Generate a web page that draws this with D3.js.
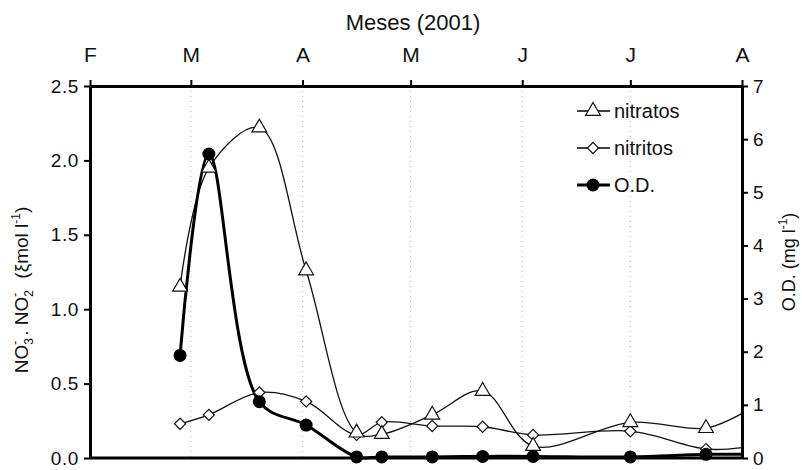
<!DOCTYPE html>
<html>
<head>
<meta charset="utf-8">
<script src="https://cdn.jsdelivr.net/npm/d3@7"></script>
<style>
  body { margin: 0; background: #fff; }
  svg text { font-family: "Liberation Sans", Arial, sans-serif; fill: #111; }
</style>
</head>
<body>
<div id="chart"></div>
<script>
// sampling dates (last one is the end of the series at the right edge, no marker)
var fechas = ["2001-02-26", "2001-03-06", "2001-03-20", "2001-04-02", "2001-04-16", "2001-04-23",
              "2001-05-07", "2001-05-21", "2001-06-04", "2001-07-01", "2001-07-22", "2001-08-01"];
var nitratos = [1.15, 1.95, 2.22, 1.26, 0.17, 0.16, 0.29, 0.45, 0.08, 0.24, 0.20, 0.30];
var nitritos = [0.23, 0.29, 0.44, 0.38, 0.155, 0.24, 0.215, 0.21, 0.155, 0.18, 0.06, 0.07];
var od = [1.93, 5.72, 1.06, 0.62, 0.02, 0.02, 0.02, 0.03, 0.03, 0.02, 0.07, 0.07];

var meses = ["2001-02-01", "2001-03-01", "2001-04-01", "2001-05-01", "2001-06-01", "2001-07-01", "2001-08-01"];
var mesLabels = ["F", "M", "A", "M", "J", "J", "A"];
var leftTicks = [0, 0.5, 1.0, 1.5, 2.0, 2.5];
var rightTicks = [0, 1, 2, 3, 4, 5, 6, 7];

var width = 802, height = 470;
var margin = {top: 86, right: 60, bottom: 12, left: 90};
var parse = d3.timeParse("%Y-%m-%d");

var x = d3.scaleTime()
    .domain([parse(meses[0]), parse(meses[meses.length - 1])])
    .range([margin.left, width - margin.right]);
var y = d3.scaleLinear().domain([0, 2.5]).range([height - margin.bottom, margin.top]);
var y2 = d3.scaleLinear().domain([0, 7]).range([height - margin.bottom, margin.top]);

var svg = d3.select("#chart").append("svg")
    .attr("width", width).attr("height", height);

// dotted month gridlines
svg.append("g").selectAll("line")
    .data(meses.slice(1, -1))
    .enter().append("line")
    .attr("x1", function(d){ return x(parse(d)); })
    .attr("x2", function(d){ return x(parse(d)); })
    .attr("y1", margin.top)
    .attr("y2", height - margin.bottom)
    .attr("stroke", "#b8b8b8")
    .attr("stroke-width", 1)
    .attr("stroke-dasharray", "1,4");

// series
var rows = fechas.map(function(f, i){
    return {date: parse(f), nitratos: nitratos[i], nitritos: nitritos[i], od: od[i]};
});
var endDate = x.domain()[1];
var marked = rows.filter(function(d){ return d.date < endDate; });

var curve = d3.curveCatmullRom.alpha(0.5);
function line(key, scale){
    return d3.line().curve(curve)
        .x(function(d){ return x(d.date); })
        .y(function(d){ return scale(d[key]); });
}

svg.append("path").datum(rows)
    .attr("d", line("nitritos", y))
    .attr("fill", "none").attr("stroke", "#111").attr("stroke-width", 1.3);
svg.append("path").datum(rows)
    .attr("d", line("nitratos", y))
    .attr("fill", "none").attr("stroke", "#111").attr("stroke-width", 1.3);
svg.append("path").datum(rows)
    .attr("d", line("od", y2))
    .attr("fill", "none").attr("stroke", "#000").attr("stroke-width", 3);

var tri = d3.symbol().type(d3.symbolTriangle).size(95);
var dia = d3.symbol().type(d3.symbolSquare).size(62);

svg.append("g").selectAll("path")
    .data(marked).enter().append("path")
    .attr("d", dia)
    .attr("transform", function(d){ return "translate(" + x(d.date) + "," + y(d.nitritos) + ") rotate(45)"; })
    .attr("fill", "#fff").attr("stroke", "#111").attr("stroke-width", 1.2);

svg.append("g").selectAll("path")
    .data(marked).enter().append("path")
    .attr("d", tri)
    .attr("transform", function(d){ return "translate(" + x(d.date) + "," + y(d.nitratos) + ")"; })
    .attr("fill", "#fff").attr("stroke", "#111").attr("stroke-width", 1.2);

svg.append("g").selectAll("circle")
    .data(marked).enter().append("circle")
    .attr("cx", function(d){ return x(d.date); })
    .attr("cy", function(d){ return y2(d.od); })
    .attr("r", 6.5)
    .attr("fill", "#000");

// axes
var topAxis = d3.axisTop(x)
    .tickValues(meses.map(parse))
    .tickFormat(function(d, i){ return mesLabels[i]; })
    .tickSize(6).tickSizeOuter(0).tickPadding(18);
var gTop = svg.append("g").attr("transform", "translate(0," + margin.top + ")").call(topAxis);
gTop.selectAll("text").attr("font-size", 21);

var leftAxis = d3.axisLeft(y).tickValues(leftTicks).tickFormat(d3.format(".1f"))
    .tickSize(6).tickSizeOuter(0).tickPadding(5);
var gLeft = svg.append("g").attr("transform", "translate(" + margin.left + ",0)").call(leftAxis);
gLeft.selectAll("text").attr("font-size", 19).attr("letter-spacing", 0.6);

var rightAxis = d3.axisRight(y2).tickValues(rightTicks).tickFormat(d3.format("d"))
    .tickSize(6).tickSizeOuter(0).tickPadding(5);
var gRight = svg.append("g").attr("transform", "translate(" + (width - margin.right) + ",0)").call(rightAxis);
gRight.selectAll("text").attr("font-size", 19);

svg.selectAll(".domain").attr("stroke", "#000").attr("stroke-width", 3);
svg.selectAll(".tick line").attr("stroke", "#000").attr("stroke-width", 2);

svg.append("line")
    .attr("x1", margin.left).attr("x2", width - margin.right)
    .attr("y1", height - margin.bottom).attr("y2", height - margin.bottom)
    .attr("stroke", "#000").attr("stroke-width", 3);

// titles
svg.append("text")
    .attr("x", (margin.left + width - margin.right) / 2 - 3).attr("y", 30)
    .attr("text-anchor", "middle").attr("font-size", 22)
    .text("Meses (2001)");

var lt = svg.append("text")
    .attr("transform", "translate(28,290) rotate(-90)")
    .attr("text-anchor", "middle").attr("font-size", 19);
lt.append("tspan").text("NO");
lt.append("tspan").attr("font-size", 12).attr("dy", 5).text("3");
lt.append("tspan").attr("font-size", 13).attr("dx", -7).attr("dy", -14).text("-");
lt.append("tspan").attr("dx", 5).attr("dy", 9).text(".\u00a0NO");
lt.append("tspan").attr("font-size", 12).attr("dy", 5).text("2");
lt.append("tspan").attr("font-size", 13).attr("dx", -7).attr("dy", -14).text("-");
lt.append("tspan").attr("dx", 14).attr("dy", 9).text("(ξmol l");
lt.append("tspan").attr("font-size", 12).attr("dy", -8).text("-1");
lt.append("tspan").attr("dy", 8).text(")");

var rt = svg.append("text")
    .attr("transform", "translate(795,262) rotate(-90)")
    .attr("text-anchor", "middle").attr("font-size", 18);
rt.append("tspan").text("O.D. (mg l");
rt.append("tspan").attr("font-size", 12).attr("dy", -8).text("-1");
rt.append("tspan").attr("dy", 8).text(")");

// legend
var legend = [
    {name: "nitratos", sym: "tri"},
    {name: "nitritos", sym: "dia"},
    {name: "O.D.", sym: "dot"}
];
var lg = svg.append("g");
legend.forEach(function(l, i){
    var ly = 111 + i * 37;
    lg.append("line").attr("x1", 577).attr("x2", 610).attr("y1", ly).attr("y2", ly)
        .attr("stroke", "#000").attr("stroke-width", l.sym == "dot" ? 3 : 1.3);
    if (l.sym == "tri") {
        lg.append("path").attr("d", tri).attr("transform", "translate(593," + ly + ")")
            .attr("fill", "#fff").attr("stroke", "#111").attr("stroke-width", 1.2);
    } else if (l.sym == "dia") {
        lg.append("path").attr("d", dia).attr("transform", "translate(593," + ly + ") rotate(45)")
            .attr("fill", "#fff").attr("stroke", "#111").attr("stroke-width", 1.2);
    } else {
        lg.append("circle").attr("cx", 593).attr("cy", ly).attr("r", 6.5).attr("fill", "#000");
    }
    lg.append("text").attr("x", 614).attr("y", ly + 7).attr("font-size", 20).text(l.name);
});
</script>
</body>
</html>
